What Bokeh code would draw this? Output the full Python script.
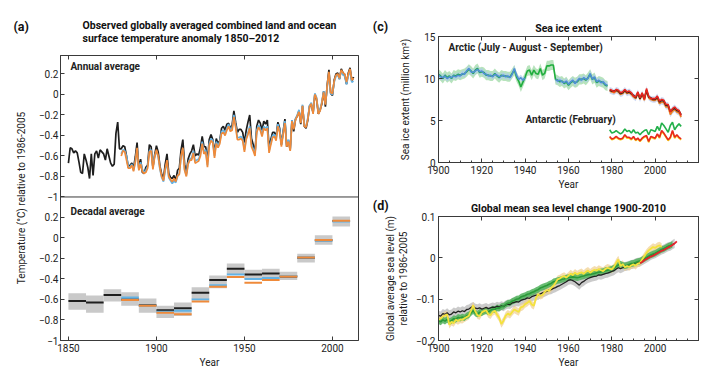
from bokeh.plotting import figure
from bokeh.layouts import row, column
from bokeh.models import Range1d, LinearAxis, FixedTicker, CustomJSTickFormatter, Span, Label
from bokeh.embed import file_html
from bokeh.resources import INLINE

FONT = "Roboto"

# ---------------- (a) annual global temperature anomaly (deg C, rel. 1986-2005)
HADCRUT_START = 1850
HADCRUT = [
    -0.67, -0.52, -0.53, -0.57, -0.55, -0.57, -0.66, -0.76, -0.77, -0.58,
    -0.64, -0.71, -0.82, -0.58, -0.79, -0.58, -0.55, -0.62, -0.54, -0.56,
    -0.58, -0.64, -0.53, -0.60, -0.67, -0.70, -0.68, -0.38, -0.27, -0.53,
    -0.53, -0.50, -0.51, -0.60, -0.71, -0.69, -0.67, -0.72, -0.61, -0.47,
    -0.72, -0.63, -0.76, -0.77, -0.71, -0.69, -0.49, -0.51, -0.71, -0.59,
    -0.50, -0.56, -0.70, -0.78, -0.82, -0.68, -0.58, -0.77, -0.81, -0.82,
    -0.79, -0.84, -0.74, -0.72, -0.54, -0.44, -0.68, -0.77, -0.63, -0.58,
    -0.55, -0.49, -0.60, -0.58, -0.59, -0.52, -0.41, -0.51, -0.51, -0.65,
    -0.44, -0.39, -0.44, -0.57, -0.43, -0.48, -0.45, -0.33, -0.31, -0.35,
    -0.29, -0.28, -0.33, -0.30, -0.16, -0.27, -0.37, -0.34, -0.34, -0.37,
    -0.47, -0.35, -0.27, -0.20, -0.43, -0.49, -0.57, -0.31, -0.25, -0.28,
    -0.35, -0.26, -0.29, -0.25, -0.52, -0.44, -0.37, -0.37, -0.41, -0.27,
    -0.33, -0.49, -0.36, -0.24, -0.51, -0.45, -0.54, -0.25, -0.36, -0.24,
    -0.21, -0.16, -0.29, -0.11, -0.31, -0.33, -0.25, -0.11, -0.10, -0.18,
    0.00, -0.05, -0.19, -0.15, -0.09, 0.03, -0.12, 0.09, 0.24, 0.01,
    -0.01, 0.14, 0.20, 0.21, 0.15, 0.25, 0.21, 0.19, 0.10, 0.21,
    0.26, 0.13, 0.17,
]
NOAA_START = 1880
NOAA = [
    -0.60, -0.55, -0.56, -0.64, -0.72, -0.72, -0.69, -0.75, -0.66, -0.52,
    -0.74, -0.68, -0.75, -0.77, -0.76, -0.72, -0.56, -0.55, -0.73, -0.61,
    -0.54, -0.60, -0.72, -0.80, -0.84, -0.72, -0.64, -0.80, -0.83, -0.85,
    -0.82, -0.85, -0.79, -0.78, -0.60, -0.52, -0.74, -0.80, -0.68, -0.64,
    -0.64, -0.57, -0.67, -0.66, -0.65, -0.60, -0.48, -0.58, -0.56, -0.71,
    -0.50, -0.45, -0.47, -0.62, -0.48, -0.52, -0.48, -0.38, -0.37, -0.40,
    -0.35, -0.31, -0.36, -0.35, -0.22, -0.32, -0.44, -0.44, -0.43, -0.45,
    -0.56, -0.44, -0.39, -0.33, -0.51, -0.55, -0.60, -0.37, -0.32, -0.35,
    -0.41, -0.33, -0.35, -0.33, -0.57, -0.49, -0.42, -0.41, -0.45, -0.31,
    -0.37, -0.51, -0.39, -0.28, -0.51, -0.46, -0.55, -0.26, -0.34, -0.25,
    -0.21, -0.17, -0.28, -0.11, -0.31, -0.32, -0.24, -0.12, -0.09, -0.19,
    0.00, -0.04, -0.19, -0.16, -0.08, 0.02, -0.10, 0.08, 0.22, 0.02,
    0.01, 0.13, 0.19, 0.20, 0.16, 0.24, 0.21, 0.20, 0.12, 0.20,
    0.25, 0.14, 0.16,
]
GISS_START = 1880
GISS = [
    -0.58, -0.54, -0.55, -0.60, -0.70, -0.71, -0.68, -0.74, -0.65, -0.53,
    -0.73, -0.66, -0.73, -0.76, -0.74, -0.70, -0.55, -0.54, -0.71, -0.60,
    -0.55, -0.61, -0.73, -0.81, -0.85, -0.74, -0.66, -0.81, -0.84, -0.87,
    -0.84, -0.86, -0.80, -0.77, -0.61, -0.53, -0.73, -0.79, -0.67, -0.63,
    -0.62, -0.55, -0.65, -0.64, -0.63, -0.58, -0.46, -0.56, -0.54, -0.69,
    -0.48, -0.43, -0.45, -0.60, -0.46, -0.50, -0.46, -0.36, -0.35, -0.38,
    -0.33, -0.29, -0.34, -0.33, -0.20, -0.30, -0.42, -0.42, -0.41, -0.43,
    -0.54, -0.42, -0.37, -0.31, -0.49, -0.53, -0.58, -0.35, -0.30, -0.33,
    -0.39, -0.31, -0.33, -0.31, -0.55, -0.47, -0.40, -0.39, -0.43, -0.29,
    -0.35, -0.49, -0.37, -0.26, -0.49, -0.44, -0.53, -0.25, -0.33, -0.24,
    -0.20, -0.15, -0.27, -0.10, -0.30, -0.31, -0.23, -0.11, -0.08, -0.18,
    0.01, -0.03, -0.18, -0.15, -0.07, 0.03, -0.09, 0.07, 0.20, 0.01,
    0.00, 0.12, 0.18, 0.19, 0.15, 0.23, 0.19, 0.18, 0.10, 0.18,
    0.23, 0.12, 0.13,
]

# decadal averages
DECADES = [1850, 1860, 1870, 1880, 1890, 1900, 1910, 1920, 1930, 1940, 1950, 1960, 1970, 1980, 1990, 2000]
DEC_HADCRUT = [-0.615, -0.630, -0.557, -0.600, -0.657, -0.705, -0.686, -0.534, -0.410, -0.300, -0.355, -0.346, -0.375, -0.194, -0.023, 0.165]
DEC_LOW = [-0.70, -0.73, -0.62, -0.66, -0.73, -0.78, -0.76, -0.60, -0.49, -0.355, -0.40, -0.40, -0.41, -0.24, -0.065, 0.113]
DEC_HIGH = [-0.54, -0.56, -0.50, -0.53, -0.59, -0.66, -0.63, -0.48, -0.365, -0.25, -0.31, -0.30, -0.33, -0.155, 0.026, 0.21]
DEC_OTHER = [1880, 1890, 1900, 1910, 1920, 1930, 1940, 1950, 1960, 1970, 1980, 1990, 2000]
DEC_GISS = [-0.58, -0.66, -0.72, -0.71, -0.60, -0.46, -0.355, -0.40, -0.39, -0.37, -0.19, -0.025, 0.16]
DEC_NOAA = [-0.605, -0.66, -0.73, -0.745, -0.62, -0.475, -0.38, -0.437, -0.41, -0.375, -0.19, -0.02, 0.168]

TEMP_TICKS = [-1.0, -0.8, -0.6, -0.4, -0.2, 0.0, 0.2]
YEAR_TICKS_A = [1850, 1900, 1950, 2000]

# ---------------- (c) sea ice extent (million km2)
ARCTIC_GREEN_START = 1900
ARCTIC_GREEN = [
    10.5, 10.3, 10.0, 10.4, 10.1, 10.3, 10.0, 10.4, 10.3, 10.5,
    10.4, 10.5, 10.6, 10.8, 11.1, 10.9, 10.6, 11.0, 11.2, 10.7,
    10.8, 10.7, 10.4, 10.4, 10.3, 10.3, 10.6, 10.3, 10.1, 10.4,
    10.3, 10.3, 10.2, 10.2, 10.6, 11.0, 10.2, 9.7, 9.0, 9.6,
    10.2, 10.9, 11.0, 10.4, 11.0, 10.6, 10.5, 11.2, 10.4, 10.6,
    11.5, 11.5, 11.6, 11.6, 9.9, 9.8, 9.6, 9.7, 9.4, 9.6,
    9.2, 9.5, 9.7, 9.5, 9.6, 9.9, 9.9, 10.0, 9.8, 10.1,
    10.5, 9.9, 10.1, 9.5, 9.7, 9.6, 9.5, 9.2, 9.1,
]
ARCTIC_BLUE1_START = 1900
ARCTIC_BLUE1 = [
    10.4, 10.2, 10.1, 10.3, 10.0, 10.2, 10.1, 10.3, 10.2, 10.4,
    10.3, 10.6, 10.5, 10.9, 11.2, 10.8, 10.7, 10.9, 11.1, 10.8,
    10.9, 10.6, 10.5, 10.3, 10.4, 10.2, 10.5, 10.4, 10.2, 10.3,
    10.4, 10.2, 10.3, 10.1, 10.5, 11.2, 10.4, 9.9, 10.1, 9.8,
    10.1,
]
ARCTIC_BLUE2_START = 1954
ARCTIC_BLUE2 = [
    9.9, 9.7, 9.8, 9.6, 9.5, 9.7, 9.3, 9.6, 9.8, 9.4,
    9.7, 10.0, 9.8, 10.1, 9.9, 10.0, 10.6, 9.9, 10.2, 9.6,
    9.8, 9.5, 9.6, 9.3, 9.2,
]
SAT_START = 1979
ARCTIC_RED = [
    8.7, 8.6, 8.4, 8.7, 8.6, 8.3, 8.4, 8.7, 8.4, 8.5,
    8.3, 7.9, 7.8, 8.4, 7.7, 8.3, 7.5, 8.8, 7.9, 7.6,
    7.6, 7.6, 7.9, 7.3, 7.5, 7.4, 6.9, 6.9, 6.0, 6.4,
    6.6, 6.3, 6.2, 5.6,
]
ARCTIC_BLACK = [
    8.6, 8.5, 8.5, 8.6, 8.5, 8.2, 8.3, 8.6, 8.3, 8.4,
    8.2, 8.0, 7.7, 8.3, 7.6, 8.2, 7.6, 8.6, 7.8, 7.7,
    7.5, 7.5, 7.8, 7.2, 7.4, 7.3, 6.8, 6.8, 6.1, 6.3,
    6.5, 6.2, 6.1, 5.7,
]
ARCTIC_ORANGE = [
    8.5, 8.4, 8.3, 8.5, 8.4, 8.1, 8.2, 8.5, 8.2, 8.3,
    8.1, 7.8, 7.6, 8.2, 7.5, 8.1, 7.4, 8.5, 7.7, 7.5,
    7.4, 7.4, 7.6, 7.0, 7.2, 7.1, 6.6, 6.6, 5.7, 6.1,
    6.3, 6.0, 5.9, 5.4,
]
ANT_GREEN = [
    3.9, 3.5, 3.6, 3.8, 3.6, 3.4, 3.6, 4.0, 3.7, 3.8,
    3.5, 3.9, 3.5, 3.6, 3.3, 3.6, 3.8, 3.9, 3.3, 3.9,
    3.8, 3.7, 4.3, 3.8, 4.7, 4.4, 4.0, 3.6, 4.4, 4.8,
    3.9, 4.3, 4.6, 4.3,
]
ANT_RED = [
    3.1, 2.8, 2.9, 3.1, 2.9, 2.8, 2.9, 3.3, 3.0, 3.0,
    2.8, 3.1, 2.7, 2.9, 2.6, 2.9, 3.1, 3.2, 2.5, 3.1,
    3.0, 2.9, 3.4, 3.0, 3.8, 3.5, 3.1, 2.7, 3.0, 3.8,
    3.0, 3.3, 3.0, 2.8,
]
ANT_YELLOW = [
    3.0, 2.7, 2.8, 3.0, 2.8, 2.7, 2.8, 3.2, 2.9, 2.9,
    2.7, 3.0, 2.6, 2.8, 2.5, 2.8, 3.0, 3.1, 2.4, 3.0,
    2.9, 2.8, 3.3, 2.9, 3.7, 3.4, 3.0, 2.6, 2.9, 3.7,
    2.9, 3.2, 2.9, 2.7,
]
ARCTIC_GREEN_UNC = 0.6
ARCTIC_BLUE_UNC = 0.35
SAT_UNC = 0.3
ICE_TICKS = [0, 5, 10, 15]
YEAR_TICKS_CD = [1900, 1920, 1940, 1960, 1980, 2000]
YEAR_MINOR_CD = list(range(1900, 2021, 5))

# ---------------- (d) global mean sea level (m, rel. 1986-2005)
SL_BLACK_START = 1900
SL_BLACK = [
    -0.139, -0.141, -0.135, -0.137, -0.133, -0.138, -0.136, -0.131, -0.133, -0.129,
    -0.131, -0.128, -0.130, -0.125, -0.124, -0.120, -0.118, -0.122, -0.123, -0.121,
    -0.124, -0.122, -0.120, -0.123, -0.121, -0.119, -0.120, -0.117, -0.119, -0.116,
    -0.118, -0.114, -0.112, -0.113, -0.109, -0.108, -0.106, -0.107, -0.103, -0.101,
    -0.100, -0.097, -0.098, -0.094, -0.092, -0.090, -0.091, -0.087, -0.085, -0.083,
    -0.081, -0.078, -0.077, -0.074, -0.072, -0.069, -0.067, -0.064, -0.061, -0.058,
    -0.054, -0.053, -0.055, -0.058, -0.062, -0.066, -0.060, -0.057, -0.053, -0.050,
    -0.048, -0.046, -0.045, -0.044, -0.041, -0.042, -0.040, -0.038, -0.037, -0.035,
    -0.033, -0.031, -0.027, -0.024, -0.026, -0.024, -0.021, -0.020, -0.018, -0.016,
    -0.015, -0.012, -0.011, -0.010, -0.007, -0.004, -0.001, 0.002, 0.006, 0.008,
    0.010, 0.013, 0.016, 0.019, 0.021, 0.024, 0.027, 0.028, 0.032, 0.035,
]
SL_GREEN_START = 1900
SL_GREEN = [
    -0.152, -0.155, -0.150, -0.153, -0.149, -0.154, -0.152, -0.147, -0.149, -0.144,
    -0.146, -0.143, -0.145, -0.140, -0.138, -0.133, -0.128, -0.134, -0.136, -0.132,
    -0.133, -0.130, -0.128, -0.131, -0.127, -0.124, -0.125, -0.121, -0.122, -0.118,
    -0.117, -0.113, -0.110, -0.109, -0.105, -0.103, -0.100, -0.099, -0.095, -0.093,
    -0.091, -0.088, -0.087, -0.084, -0.082, -0.079, -0.077, -0.073, -0.071, -0.069,
    -0.067, -0.064, -0.062, -0.058, -0.057, -0.055, -0.054, -0.052, -0.051, -0.049,
    -0.048, -0.047, -0.046, -0.047, -0.048, -0.047, -0.045, -0.044, -0.042, -0.041,
    -0.040, -0.039, -0.038, -0.036, -0.035, -0.034, -0.033, -0.031, -0.030, -0.029,
    -0.027, -0.025, -0.021, -0.017, -0.015, -0.018, -0.019, -0.018, -0.016, -0.014,
    -0.013, -0.011, -0.009, -0.008, -0.005, -0.002, 0.001, 0.004, 0.007, 0.009,
    0.011, 0.014, 0.017, 0.020, 0.022, 0.025, 0.028, 0.030, 0.033,
]
SL_YELLOW_START = 1900
SL_YELLOW = [
    -0.150, -0.147, -0.142, -0.139, -0.137, -0.162, -0.155, -0.158, -0.150, -0.153,
    -0.149, -0.150, -0.146, -0.143, -0.140, -0.128, -0.115, -0.130, -0.139, -0.141,
    -0.132, -0.129, -0.127, -0.136, -0.139, -0.131, -0.128, -0.137, -0.145, -0.160,
    -0.152, -0.140, -0.135, -0.138, -0.131, -0.125, -0.128, -0.131, -0.120, -0.118,
    -0.112, -0.109, -0.104, -0.113, -0.116, -0.097, -0.088, -0.092, -0.090, -0.083,
    -0.078, -0.080, -0.073, -0.068, -0.060, -0.052, -0.050, -0.046, -0.044, -0.048,
    -0.043, -0.038, -0.042, -0.036, -0.040, -0.037, -0.035, -0.039, -0.034, -0.031,
    -0.036, -0.032, -0.029, -0.031, -0.027, -0.030, -0.032, -0.027, -0.024, -0.026,
    -0.028, -0.022, -0.012, -0.004, -0.020, -0.015, -0.023, -0.020, -0.022, -0.018,
    -0.016, -0.019, -0.014, -0.012, -0.004, 0.004, 0.012, 0.018, 0.022, 0.026,
    0.024, 0.028, 0.030, 0.026,
]
SL_RED_START = 1993
SL_RED = [
    -0.013, -0.010, -0.006, -0.003, 0.000, 0.003, 0.005, 0.008, 0.011, 0.014,
    0.017, 0.019, 0.022, 0.025, 0.028, 0.031, 0.035, 0.040,
]
SL_BLACK_UNC = 0.011
SL_GREEN_UNC = 0.008
SL_YELLOW_UNC = 0.009
SL_TICKS = [-0.2, -0.1, 0.0, 0.1]

# ---------------- colours
C_BLACK = "#1e1e1e"
C_ORANGE = "#ef8a3a"
C_BLUE = "#63b2e4"
C_FRAME = "#3a3a3a"

FMT_CODE = """
const t = (offset > 0 && tick < split) ? tick + offset : tick;
const a = Math.abs(t);
let s;
if (Math.abs(a - Math.round(a)) < 1e-6) { s = String(Math.round(a)); }
else { s = a.toFixed(1); }
return (t < -1e-6 ? "\\u2212" : "") + s;
"""


def years(start, vals):
    return list(range(start, start + len(vals)))


def style(p):
    p.xgrid.visible = False
    p.ygrid.visible = False
    p.outline_line_color = C_FRAME
    p.outline_line_width = 1
    p.background_fill_color = "white"
    p.border_fill_color = "white"
    p.title.text_font = FONT
    p.title.text_font_style = "bold"
    p.title.text_font_size = "10.5px"
    p.title.align = "center"
    p.title.text_color = "#111111"
    for ax in p.xaxis + p.yaxis:
        ax.axis_line_color = C_FRAME
        ax.major_tick_in = 4
        ax.major_tick_out = 0
        ax.minor_tick_in = 2
        ax.minor_tick_out = 0
        ax.major_tick_line_color = C_FRAME
        ax.minor_tick_line_color = C_FRAME
        ax.major_label_text_font = FONT
        ax.major_label_text_font_size = "10px"
        ax.major_label_text_color = "#222222"
        ax.axis_label_text_font = FONT
        ax.axis_label_text_font_size = "10px"
        ax.axis_label_text_font_style = "normal"
        ax.axis_label_text_color = "#222222"
        ax.major_label_standoff = 3
        ax.axis_label_standoff = 2


def tick_axis(p, side, ticker):
    ax = LinearAxis(ticker=ticker, major_label_text_font_size="1px", major_label_text_color=None,
                    major_tick_in=4, major_tick_out=0, minor_tick_in=2, minor_tick_out=0,
                    axis_line_color=C_FRAME, major_tick_line_color=C_FRAME, minor_tick_line_color=C_FRAME,
                    major_label_standoff=0)
    p.add_layout(ax, side)
    return ax


def letter(p, text, x, y, side="left"):
    p.add_layout(Label(x=x, y=y, text=text,
                       text_font=FONT, text_font_style="bold", text_font_size="12.5px",
                       text_baseline="middle", text_align="left", text_color="#111111"), side)


def inner(p, text, x, y, size="10px"):
    p.add_layout(Label(x=x, y=y, x_units="screen", y_units="screen", text=text,
                       text_font=FONT, text_font_style="bold", text_font_size=size,
                       text_baseline="middle", text_align="left", text_color="#222222"))


# ======================= panel (a)
PANEL_OFFSET = 1.4   # vertical shift between the annual and decadal sub-panels
pa = figure(width=365, height=370, x_range=Range1d(1845.5, 2014.8), y_range=Range1d(-2.4, 0.38),
            output_backend="svg", toolbar_location=None,
            min_border_left=60, min_border_right=7, min_border_top=55, min_border_bottom=27,
            title="Observed globally averaged combined land and ocean\nsurface temperature anomaly 1850\u20132012")
pa.extra_y_ranges = {"dec": Range1d(-2.4 + PANEL_OFFSET, 0.38 + PANEL_OFFSET)}
style(pa)
pa.title.standoff = -9
pa.xaxis.ticker = FixedTicker(ticks=YEAR_TICKS_A, minor_ticks=[])
pa.xaxis.axis_label = "Year"
lower_ticks = [t - PANEL_OFFSET for t in TEMP_TICKS]
pa.yaxis.ticker = FixedTicker(ticks=sorted(set(round(t, 3) for t in TEMP_TICKS + lower_ticks)), minor_ticks=[])
pa.yaxis.formatter = CustomJSTickFormatter(args=dict(offset=PANEL_OFFSET, split=-1.05), code=FMT_CODE)
pa.yaxis.axis_label = "Temperature (\u00b0C) relative to 1986-2005"
pa.yaxis.axis_label_standoff = 9
pa.yaxis.major_label_standoff = 2
tick_axis(pa, "above", FixedTicker(ticks=YEAR_TICKS_A, minor_ticks=[]))

pa.line(years(HADCRUT_START, HADCRUT), HADCRUT, line_color=C_BLACK, line_width=1.7)
pa.line(years(GISS_START, GISS), GISS, line_color=C_BLUE, line_width=1.7)
pa.line(years(NOAA_START, NOAA), NOAA, line_color=C_ORANGE, line_width=1.7)

dec_end = [d + 10 for d in DECADES]
oth_end = [d + 10 for d in DEC_OTHER]
pa.quad(left=DECADES, right=dec_end, bottom=DEC_LOW, top=DEC_HIGH, y_range_name="dec",
        fill_color="#c9c9c9", line_color=None)
pa.segment(x0=DECADES, x1=dec_end, y0=DEC_HADCRUT, y1=DEC_HADCRUT, y_range_name="dec",
           line_color=C_BLACK, line_width=2)
pa.segment(x0=DEC_OTHER, x1=oth_end, y0=DEC_GISS, y1=DEC_GISS, y_range_name="dec",
           line_color=C_BLUE, line_width=2)
pa.segment(x0=DEC_OTHER, x1=oth_end, y0=DEC_NOAA, y1=DEC_NOAA, y_range_name="dec",
           line_color=C_ORANGE, line_width=2)
pa.add_layout(Span(location=min(TEMP_TICKS), dimension="width", line_color=C_FRAME, line_width=1))
letter(pa, "(a)", 1818.8, 0.66, "above")
inner(pa, "Annual average", 10, 274)
inner(pa, "Decadal average", 10, 129)

# ======================= panel (c)
pc = figure(width=347, height=192, x_range=Range1d(1900, 2020), y_range=Range1d(0, 15),
            output_backend="svg", toolbar_location=None,
            min_border_left=68, min_border_right=14, min_border_top=36, min_border_bottom=29,
            title="Sea ice extent")
style(pc)
pc.title.standoff = 4
pc.xaxis.ticker = FixedTicker(ticks=YEAR_TICKS_CD, minor_ticks=YEAR_MINOR_CD)
pc.xaxis.axis_label = "Year"
pc.yaxis.ticker = FixedTicker(ticks=ICE_TICKS, minor_ticks=[])
pc.yaxis.axis_label = "Sea ice extent (million km\u00b2)"
pc.yaxis.axis_label_standoff = 10
tick_axis(pc, "right", FixedTicker(ticks=ICE_TICKS, minor_ticks=[]))
tick_axis(pc, "above", FixedTicker(ticks=YEAR_TICKS_CD, minor_ticks=[]))

xg = years(ARCTIC_GREEN_START, ARCTIC_GREEN)
pc.varea(x=xg, y1=[v - ARCTIC_GREEN_UNC for v in ARCTIC_GREEN], y2=[v + ARCTIC_GREEN_UNC for v in ARCTIC_GREEN],
         fill_color="#9fd9a6", fill_alpha=0.75)
for st, vals in ((ARCTIC_BLUE1_START, ARCTIC_BLUE1), (ARCTIC_BLUE2_START, ARCTIC_BLUE2)):
    pc.varea(x=years(st, vals), y1=[v - ARCTIC_BLUE_UNC for v in vals], y2=[v + ARCTIC_BLUE_UNC for v in vals],
             fill_color="#a9c9ec", fill_alpha=0.7)
xs = years(SAT_START, ARCTIC_RED)
pc.varea(x=xs, y1=[v - SAT_UNC for v in ARCTIC_ORANGE], y2=[v + SAT_UNC for v in ARCTIC_RED],
         fill_color="#b9c9f0", fill_alpha=0.7)
pc.varea(x=xs, y1=[v - 0.15 for v in ARCTIC_RED], y2=[v + 0.15 for v in ARCTIC_RED],
         fill_color="#f2a8a0", fill_alpha=0.6)
pc.line(xg, ARCTIC_GREEN, line_color="#1fae3d", line_width=1.6)
pc.line(years(ARCTIC_BLUE1_START, ARCTIC_BLUE1), ARCTIC_BLUE1, line_color="#4f8fd4", line_width=1.6)
pc.line(years(ARCTIC_BLUE2_START, ARCTIC_BLUE2), ARCTIC_BLUE2, line_color="#4f8fd4", line_width=1.6)
pc.line(xs, ARCTIC_ORANGE, line_color="#f08020", line_width=1.6)
pc.line(xs, ARCTIC_BLACK, line_color="#222222", line_width=1.6)
pc.line(xs, ARCTIC_RED, line_color="#e8261e", line_width=1.6)
pc.line(xs, ANT_YELLOW, line_color="#f6cf1e", line_width=1.6)
pc.line(xs, ANT_RED, line_color="#e8261e", line_width=1.6)
pc.line(xs, ANT_GREEN, line_color="#22b04a", line_width=1.6)
letter(pc, "(c)", 1869.7, 16.2)
inner(pc, "Arctic (July - August - September)", 10, 115)
inner(pc, "Antarctic (February)", 87, 43)

# ======================= panel (d)
pd_ = figure(width=347, height=178, x_range=Range1d(1900, 2020), y_range=Range1d(-0.2, 0.1),
             output_backend="svg", toolbar_location=None,
             min_border_left=68, min_border_right=14, min_border_top=24, min_border_bottom=28,
             title="Global mean sea level change 1900-2010")
style(pd_)
pd_.title.standoff = 4
pd_.xaxis.ticker = FixedTicker(ticks=YEAR_TICKS_CD, minor_ticks=YEAR_MINOR_CD)
pd_.xaxis.axis_label = "Year"
pd_.yaxis.ticker = FixedTicker(ticks=SL_TICKS, minor_ticks=[])
pd_.yaxis.formatter = CustomJSTickFormatter(args=dict(offset=0, split=0), code=FMT_CODE)
pd_.yaxis.axis_label = "Global average sea level (m)\nrelative to 1986-2005"
pd_.yaxis.axis_label_standoff = 4
tick_axis(pd_, "right", FixedTicker(ticks=SL_TICKS, minor_ticks=[]))
tick_axis(pd_, "above", FixedTicker(ticks=YEAR_TICKS_CD, minor_ticks=[]))

xb = years(SL_BLACK_START, SL_BLACK)
xgr = years(SL_GREEN_START, SL_GREEN)
xy = years(SL_YELLOW_START, SL_YELLOW)
pd_.varea(x=xb, y1=[v - SL_BLACK_UNC for v in SL_BLACK], y2=[v + SL_BLACK_UNC for v in SL_BLACK],
          fill_color="#b5b5b5", fill_alpha=0.7)
pd_.varea(x=xy, y1=[v - SL_YELLOW_UNC for v in SL_YELLOW], y2=[v + SL_YELLOW_UNC for v in SL_YELLOW],
          fill_color="#efcf8e", fill_alpha=0.7)
pd_.varea(x=xgr, y1=[v - SL_GREEN_UNC for v in SL_GREEN], y2=[v + SL_GREEN_UNC for v in SL_GREEN],
          fill_color="#4fb05a", fill_alpha=0.85)
pd_.line(xb, SL_BLACK, line_color="#222222", line_width=1.3)
pd_.line(xgr, SL_GREEN, line_color="#2a9a38", line_width=1.6)
pd_.line(xy, SL_YELLOW, line_color="#f4e23c", line_width=1.8)
pd_.line(years(SL_RED_START, SL_RED), SL_RED, line_color="#e8202a", line_width=1.8)
letter(pd_, "(d)", 1869.7, 0.127)

layout = row(pa, column(pc, pd_))
open("out.html", "w").write(file_html(layout, INLINE))
